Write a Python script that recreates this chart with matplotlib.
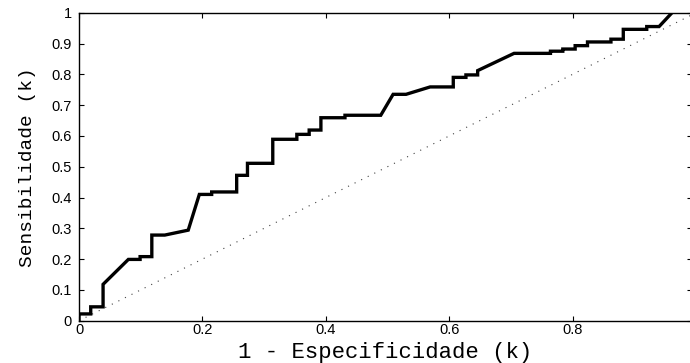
import matplotlib
matplotlib.use("Agg")
import matplotlib.pyplot as plt

# ROC curve points (1 - specificity, sensitivity)
fpr = [0, 0, 0.019, 0.019, 0.039, 0.039, 0.080, 0.099, 0.099, 0.118,
       0.118, 0.139, 0.177, 0.195, 0.215, 0.215, 0.2555, 0.2555, 0.273, 0.273,
       0.314, 0.314, 0.353, 0.353, 0.373, 0.373, 0.392, 0.392, 0.431, 0.431,
       0.489, 0.509, 0.530, 0.569, 0.6065, 0.6065, 0.627, 0.627, 0.646, 0.646,
       0.705, 0.764, 0.764, 0.784, 0.784, 0.804, 0.804, 0.824, 0.824, 0.862,
       0.862, 0.882, 0.882, 0.920, 0.920, 0.940, 0.961]
tpr = [0, 0.022, 0.022, 0.045, 0.045, 0.118, 0.199, 0.199, 0.208, 0.208,
       0.278, 0.278, 0.294, 0.410, 0.410, 0.418, 0.418, 0.472, 0.472, 0.511,
       0.511, 0.589, 0.589, 0.605, 0.605, 0.619, 0.619, 0.659, 0.659, 0.667,
       0.667, 0.735, 0.735, 0.759, 0.759, 0.790, 0.790, 0.798, 0.798, 0.812,
       0.868, 0.868, 0.875, 0.875, 0.882, 0.882, 0.893, 0.893, 0.905, 0.905,
       0.914, 0.914, 0.946, 0.946, 0.955, 0.955, 1.0]

# reference diagonal
diag_x = [0, 1]
diag_y = [0, 1]

xticks = [0, 0.2, 0.4, 0.6, 0.8]
xticklabels = ["0", "0.2", "0.4", "0.6", "0.8"]
yticks = [0, 0.1, 0.2, 0.3, 0.4, 0.5, 0.6, 0.7, 0.8, 0.9, 1.0]
yticklabels = ["0", "0.1", "0.2", "0.3", "0.4", "0.5", "0.6", "0.7", "0.8", "0.9", "1"]

xlabel = "1 - Especificidade (k)"
ylabel = "Sensibilidade (k)"

W, H = 690, 363
fig = plt.figure(figsize=(W / 100, H / 100), dpi=100)
left_px, right_px, top_px, bot_px = 79, 692, 12.7, 320.7
ax = fig.add_axes([left_px / W, 1 - bot_px / H,
                   (right_px - left_px) / W, (bot_px - top_px) / H])

ax.plot(diag_x, diag_y, color="0.25", lw=0.8, linestyle=(0, (1, 5.6)))
ax.plot(fpr, tpr, color="black", lw=2.4, solid_joinstyle="miter")

ax.set_xlim(0, (right_px - left_px) / 617.1)
ax.set_ylim(0, 1)

ax.set_xticks(xticks)
ax.set_xticklabels(xticklabels)
ax.set_yticks(yticks)
ax.set_yticklabels(yticklabels)

for s in ax.spines.values():
    s.set_linewidth(1.0)

ax.tick_params(direction="in", length=3.5, width=0.8, top=True, right=True,
               labelsize=10.5)
ax.tick_params(axis="x", pad=2)
ax.tick_params(axis="y", pad=5)
for lab in ax.get_xticklabels() + ax.get_yticklabels():
    lab.set_fontfamily(["Liberation Sans", "DejaVu Sans"])

ax.set_xlabel(xlabel, family=["Liberation Mono", "DejaVu Sans Mono"],
              fontsize=16, va="baseline")
ax.xaxis.set_label_coords(0.5, (bot_px - 358) / (bot_px - top_px))
ax.set_ylabel(ylabel, family=["Liberation Mono", "DejaVu Sans Mono"],
              fontsize=14, va="baseline")
ax.yaxis.set_label_coords((32.3 - left_px) / (right_px - left_px), 0.5)

fig.savefig("out.png", dpi=100)
